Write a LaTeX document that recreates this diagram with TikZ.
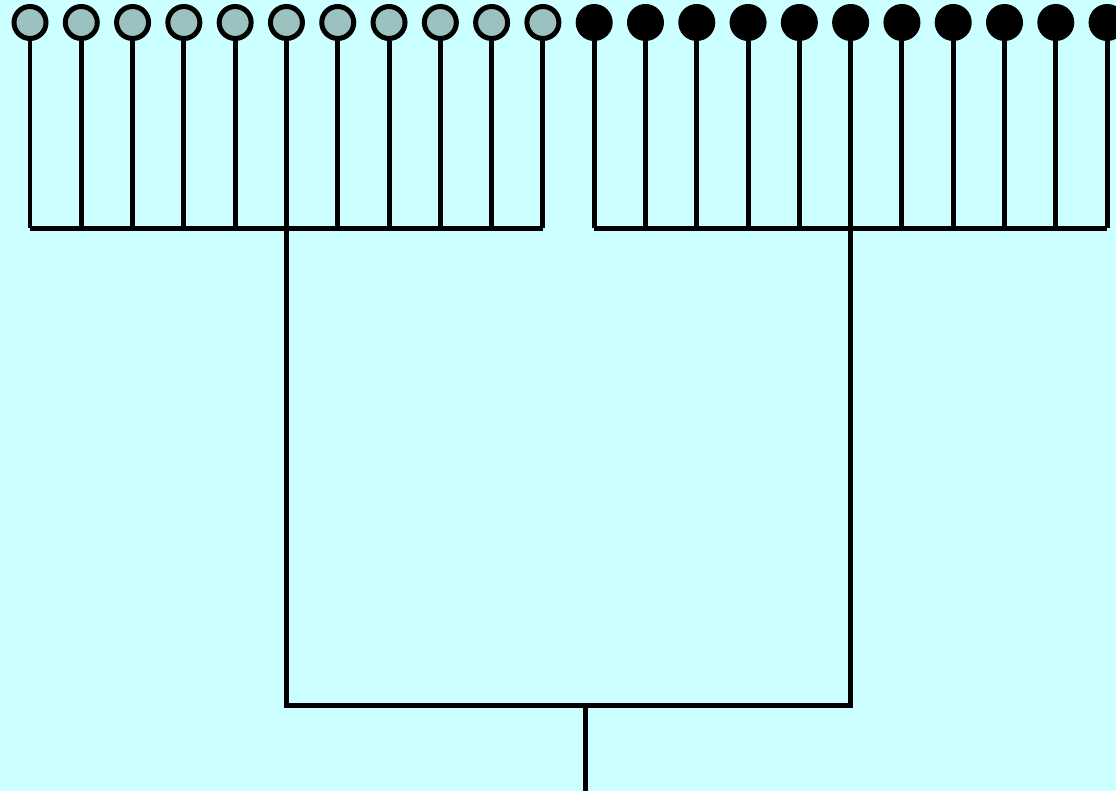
\documentclass[tikz,border=0pt]{standalone}
\usepackage{xcolor}
\usepackage{tikz}
\usetikzlibrary{positioning, calc}
\definecolor{bgcyan}{HTML}{CCFFFF}
\definecolor{leafgray}{HTML}{9BC2C0}
\tikzset{
  leaf/.style={circle, draw=black, line width=0.1cm, fill=leafgray,
    minimum size=0.64cm, inner sep=0pt},
  darkleaf/.style={leaf, fill=black},
  branch/.style={line width=0.1cm, black},
}

\begin{document}
\begin{tikzpicture}[x=0.02cm, y=-0.02cm]

\useasboundingbox[fill=bgcyan] (0,0) rectangle (1116,791);

% ---- Joints ----
\coordinate (bar) at (0,228);
\coordinate (root) at (585.7,705);
\coordinate (base) at (585.7,791);

% ---- Leaves ----
\foreach \i in {1,...,11}
  \node[leaf] (c\i) at ({30+(\i-1)*51.29},22.5) {};
\foreach \i in {12,...,22}
  \node[darkleaf] (c\i) at ({30+(\i-1)*51.29},22.5) {};

% ---- Stems ----
\foreach \i in {1,...,22}
  \draw[branch] (c\i.south) -- (c\i |- bar);

% ---- Bars ----
\draw[branch] (c1 |- bar) -- (c11 |- bar);
\draw[branch] (c12 |- bar) -- (c22 |- bar);
\draw[branch] (c6 |- bar) -- (c6 |- root) -- (c17 |- root) -- (c17 |- bar);
\draw[branch] (root) -- (base);

\end{tikzpicture}
\end{document}
